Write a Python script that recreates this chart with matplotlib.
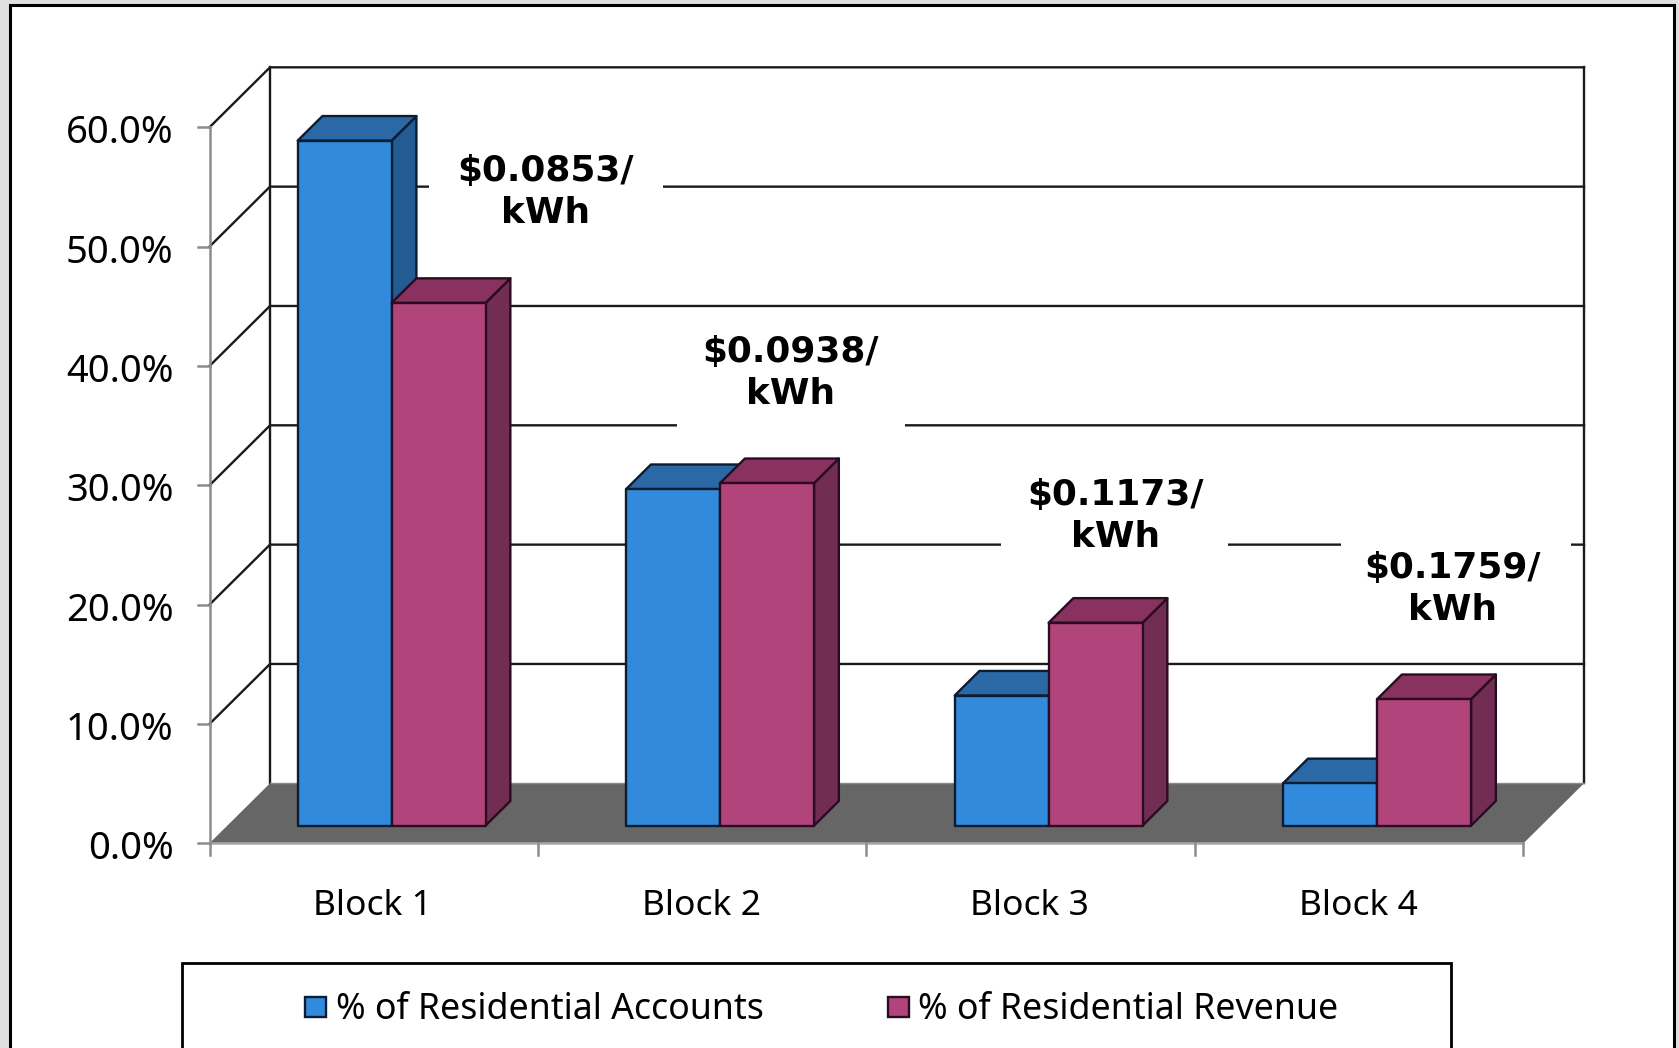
import matplotlib
matplotlib.use("Agg")
import matplotlib.pyplot as plt
from matplotlib.patches import Polygon, Rectangle

categories = ["Block 1", "Block 2", "Block 3", "Block 4"]
accounts = [57.4, 28.2, 10.9, 3.55]
revenue = [43.8, 28.7, 17.0, 10.6]
rates = ["$0.0853/\nkWh", "$0.0938/\nkWh", "$0.1173/\nkWh", "$0.1759/\nkWh"]
y_ticks = [0, 10, 20, 30, 40, 50, 60]
series_names = ["% of Residential Accounts", "% of Residential Revenue"]

W, H = 1679, 1048
FONT = "Noto Sans"
BLUE = ("#318ADB", "#2A69A6", "#235B93", "#0C1C33")
MAG = ("#B1457B", "#8A325F", "#722D53", "#2A0C20")

X0, XU = 209.5, 328.5   # pixel of category 0, pixels per category
Y0, YU = 843.3, 11.933  # pixel of 0 %, pixels per 1 %
DX, DY = 60.5 / XU, 60 / YU  # full depth of the plot box in data units

fig = plt.figure(figsize=(W / 100, H / 100), dpi=100, facecolor="#E0E0E0")
ax = fig.add_axes([0, 0, 1, 1])
ax.set_xlim(-X0 / XU, (W - X0) / XU)
ax.set_ylim((Y0 - H) / YU, Y0 / YU)
ax.axis("off")


def px(x, y):
    return (x - X0) / XU, (Y0 - y) / YU


def pr(x, y, z=0.0):
    return x + z * DX, y + z * DY


def poly(points, fc, ec="none", lw=0, zorder=2):
    ax.add_patch(Polygon(points, closed=True, facecolor=fc, edgecolor=ec,
                         linewidth=lw, joinstyle="round", zorder=zorder))


# page frame
fx, fy = px(10, 5)
fx2, fy2 = px(1674, H + 10)
ax.add_patch(Rectangle((fx, fy2), fx2 - fx, fy - fy2, facecolor="white",
                       edgecolor="black", linewidth=2.2, zorder=1))

n = len(categories)
top = y_ticks[-1]
GRID = "#1A1A1A"

# floor
poly([pr(0, 0), pr(n, 0), pr(n, 0, 1), pr(0, 0, 1)], "#666666", zorder=2)

# walls and gridlines
for t in y_ticks[1:]:
    ax.plot(*zip(pr(0, t), pr(0, t, 1), pr(n, t, 1)), color=GRID, lw=1.7,
            solid_joinstyle="miter", zorder=2.2)
ax.plot(*zip(pr(0, 0, 1), pr(0, top, 1)), color=GRID, lw=1.7, zorder=2.2)
ax.plot(*zip(pr(n, 0, 1), pr(n, top, 1)), color=GRID, lw=1.7, zorder=2.2)
ax.plot(*zip(pr(0, 0, 1), pr(n, 0, 1)), color="#8A8A8A", lw=1, zorder=2.3)

# front axes
AX = "#8C8C8C"
ax.plot([0, 0], [0, top], color=AX, lw=1.8, zorder=2.4, solid_capstyle="projecting")
ax.plot([0, n], [0, 0], color="#A8A8A8", lw=1.8, zorder=2.4)
tick_w = 12 / XU
tick_h = 12 / YU
for t in y_ticks:
    ax.plot([-tick_w, 0], [t, t], color=AX, lw=1.8, zorder=2.4)
    lx, ly = px(173.5, Y0 - t * YU + 6)
    ax.text(lx, ly, f"{t:.1f}%", ha="right", va="center", fontsize=27.5,
            family=FONT, color="black", zorder=6)
for i in range(n + 1):
    ax.plot([i, i], [0, -tick_h], color=AX, lw=1.8, zorder=2.4)

# white boxes behind the rate labels
label_pos = [(545, 192), (791, 373), (1115, 516), (1453, 589)]
box_x = [(429, 663), (677, 905), (1001, 1228), (1341, 1571)]
for (bx1, bx2), (lx, ly), txt in zip(box_x, label_pos, rates):
    a, b = px(bx1, ly + 56)
    c, d = px(bx2, ly - 56)
    ax.add_patch(Rectangle((a, b), c - a, d - b, facecolor="white",
                           edgecolor="none", zorder=2.5))
    tx, ty = px(lx, ly)
    ax.text(tx, ty, txt, ha="center", va="center", fontsize=25.8, weight="bold",
            family="DejaVu Sans", linespacing=1.32, color="black", zorder=6)

# bars
BAR_W = 0.286
BAR_START = 0.214
Z0, Z1 = 18 / 61, 43 / 61


def bar3d(x, v, cols, z):
    front, topc, side, edge = cols
    x2 = x + BAR_W
    lw = 1.7
    poly([pr(x2, 0, Z0), pr(x2, 0, Z1), pr(x2, v, Z1), pr(x2, v, Z0)], side, edge, lw, z)
    poly([pr(x, v, Z0), pr(x2, v, Z0), pr(x2, v, Z1), pr(x, v, Z1)], topc, edge, lw, z)
    poly([pr(x, 0, Z0), pr(x2, 0, Z0), pr(x2, v, Z0), pr(x, v, Z0)], front, edge, lw, z)


for i in range(n):
    bar3d(i + BAR_START, accounts[i], BLUE, 3 + i * 0.1)
    bar3d(i + BAR_START + BAR_W, revenue[i], MAG, 3.05 + i * 0.1)
    lx, ly = px(X0 + (i + 0.5) * XU - 1, 906)
    ax.text(lx, ly, categories[i], ha="center", va="center", fontsize=25.5,
            family=FONT, color="black", zorder=6)

# legend
a, b = px(181.5, H + 10)
c, d = px(1451, 963)
ax.add_patch(Rectangle((a, b), c - a, d - b, facecolor="white", edgecolor="black",
                       linewidth=2, zorder=5))
for (sx, tx), name, cols in zip([(305, 336), (888, 918)], series_names, (BLUE, MAG)):
    a, b = px(sx, 1017)
    c, d = px(sx + 21, 997)
    ax.add_patch(Rectangle((a, b), c - a, d - b, facecolor=cols[0], edgecolor=cols[3],
                           linewidth=1.7, zorder=6))
    lx, ly = px(tx, 1010)
    ax.text(lx, ly, name, ha="left", va="center", fontsize=25.7, family=FONT,
            color="black", zorder=6)

fig.savefig("out.png", dpi=100, facecolor=fig.get_facecolor())
